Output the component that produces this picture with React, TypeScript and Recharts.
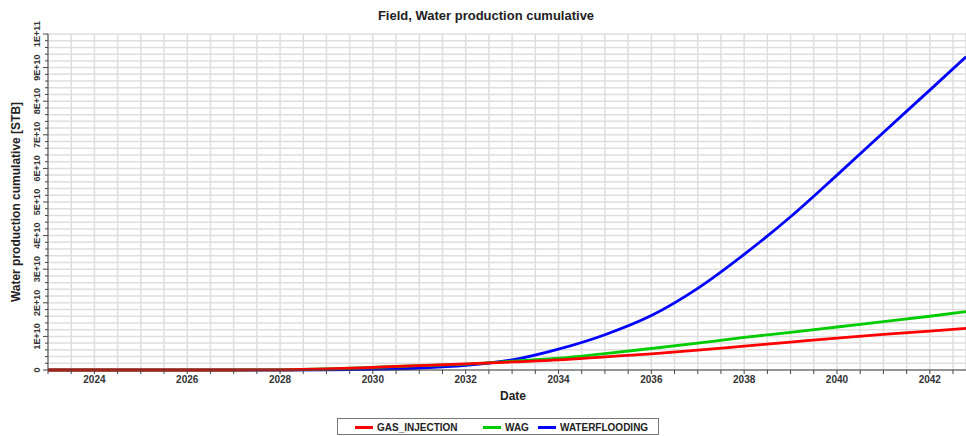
import React from "react";
import { LineChart, Line, XAxis, YAxis, CartesianGrid } from "recharts";

const years = [2023, 2024, 2025, 2026, 2027, 2028, 2029, 2030, 2031, 2032, 2033, 2034, 2035, 2036, 2037, 2038, 2039, 2040, 2041, 2042, 2042.78];
// values in 1E9 STB
const gasInjection = [0, 0, 0, 0, 0, 0.05, 0.3, 0.8, 1.3, 1.8, 2.4, 3.0, 3.9, 4.8, 5.9, 7.1, 8.3, 9.5, 10.6, 11.6, 12.4];
const wag = [0, 0, 0, 0, 0, 0.05, 0.3, 0.8, 1.3, 1.75, 2.6, 3.5, 4.9, 6.4, 8.0, 9.7, 11.2, 12.8, 14.4, 16.0, 17.4];
const waterflooding = [0, 0, 0, 0, 0, 0, 0.05, 0.2, 0.6, 1.4, 3.0, 6.2, 10.5, 16.2, 24.3, 34.4, 45.6, 58.0, 70.7, 83.3, 93.2];

const xTicks: number[] = [];
for (let t = 2023; t <= 2042.5; t += 0.5) xTicks.push(t);
const yTicks: number[] = [];
for (let v = 0; v <= 100; v += 2) yTicks.push(v * 1e9);

const seriesNames = ["GAS_INJECTION", "WAG", "WATERFLOODING"];
const seriesColors = ["#ff0000", "#00cc00", "#0000ff"];

const data = years.map((y, i) => ({
  year: y,
  gas: gasInjection[i] * 1e9,
  wag: wag[i] * 1e9,
  wf: waterflooding[i] * 1e9,
}));

const FONT = "'Liberation Sans', Arial, sans-serif";

function fmtY(v: number): string {
  if (v === 0) return "0";
  const e = Math.floor(Math.log10(v) + 1e-9);
  const m = Math.round(v / Math.pow(10, e));
  return `${m}E+${e}`;
}

const XTick = (props: any) => {
  const { x, y, payload } = props;
  const v = payload.value;
  const isLabel = Math.abs(v - Math.round(v)) < 1e-6 && Math.round(v) % 2 === 0;
  if (!isLabel) return <g />;
  return (
    <text x={x} y={y} dy="0.71em" textAnchor="middle" fontFamily={FONT} fontSize={10} fontWeight="bold" fill="#333">
      {Math.round(v)}
    </text>
  );
};

const YTick = (props: any) => {
  const { x, y, payload } = props;
  const v = payload.value;
  const major = Math.abs((v / 1e10) - Math.round(v / 1e10)) < 1e-6;
  return (
    <g>
      <line x1={x - (major ? 5 : 3)} x2={x} y1={y} y2={y} stroke="#444" strokeWidth={1} />
      {major && (
        <text
          x={x - 11}
          y={y}
          transform={`rotate(-90 ${x - 11} ${y})`}
          textAnchor="middle"
          dominantBaseline="central"
          fontFamily={FONT}
          fontSize={9}
          fontWeight="bold"
          fill="#333"
        >
          {fmtY(v)}
        </text>
      )}
    </g>
  );
};

export default function App() {
  return (
    <div style={{ position: "absolute", left: 0, top: 0, width: 966, height: 436, background: "#fff", fontFamily: FONT }}>
      <div style={{ position: "absolute", left: 0, top: 8, width: 972, textAlign: "center", fontSize: 13, fontWeight: "bold", color: "#222" }}>
        Field, Water production cumulative
      </div>
      <LineChart width={966} height={436} data={data} margin={{ top: 34, right: 0, left: 0, bottom: 40 }}>
        <CartesianGrid stroke="#dedede" strokeWidth={1.5} />
        <XAxis
          dataKey="year"
          type="number"
          domain={[2023, 2042.78]}
          ticks={xTicks}
          allowDataOverflow
          interval={0}
          tick={<XTick />}
          tickSize={4}
          tickMargin={2}
          height={26}
          stroke="#444"
        />
        <YAxis
          type="number"
          domain={[0, 1e11]}
          ticks={yTicks}
          interval={0}
          tick={<YTick />}
          tickLine={false}
          tickSize={0}
          tickMargin={0}
          width={48}
          stroke="#444"
        />
        <Line dataKey="wf" type="monotone" stroke={seriesColors[2]} strokeWidth={2.8} dot={false} isAnimationActive={false} />
        <Line dataKey="wag" type="monotone" stroke={seriesColors[1]} strokeWidth={2.8} dot={false} isAnimationActive={false} />
        <Line dataKey="gas" type="monotone" stroke={seriesColors[0]} strokeWidth={2.8} dot={false} isAnimationActive={false} />
      </LineChart>
      <div
        style={{
          position: "absolute",
          left: 6,
          top: 202,
          transform: "translate(-50%, -50%) rotate(-90deg)",
          transformOrigin: "center",
          marginLeft: 10,
          whiteSpace: "nowrap",
          fontSize: 12,
          fontWeight: "bold",
          color: "#222",
        }}
      >
        Water production cumulative [STB]
      </div>
      <div style={{ position: "absolute", left: 0, top: 389, width: 1026, textAlign: "center", fontSize: 12, fontWeight: "bold", color: "#222" }}>
        Date
      </div>
      <div
        style={{
          position: "absolute",
          left: 337,
          top: 418,
          width: 320,
          height: 15,
          border: "1px solid #777",
          fontSize: 10,
          fontWeight: "bold",
          color: "#222",
        }}
      >
        {seriesNames.map((n, i) => {
          const lefts = [17, 145, 200];
          return (
            <div key={n} style={{ position: "absolute", left: lefts[i], top: 1, height: 14, display: "flex", alignItems: "center", whiteSpace: "nowrap" }}>
              <span style={{ display: "inline-block", width: 18, height: 3, background: seriesColors[i], marginRight: 4 }} />
              <span>{n}</span>
            </div>
          );
        })}
      </div>
    </div>
  );
}
